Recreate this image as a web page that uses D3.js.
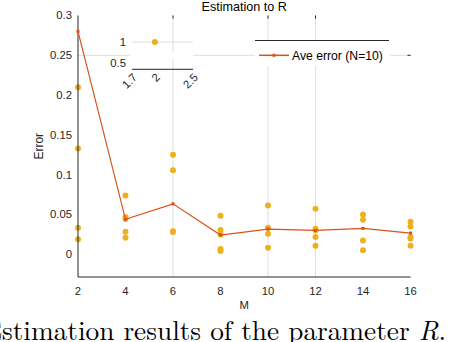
<!DOCTYPE html>
<html><head><meta charset="utf-8">
<script src="https://cdn.jsdelivr.net/npm/d3@7"></script>
<style>
html,body{margin:0;padding:0;background:#fff;}
svg{display:block;font-family:"Liberation Sans",Arial,sans-serif;}
</style></head>
<body><svg id="c" width="452" height="342"></svg>
<script>
// ---- data ----
const mValues = [2, 4, 6, 8, 10, 12, 14, 16];
const aveError = [0.280, 0.044, 0.0634, 0.0242, 0.0317, 0.030, 0.0326, 0.0267];
const trialErrors = [
  [0.210, 0.133, 0.0333, 0.0188],
  [0.074, 0.047, 0.0445, 0.0283, 0.0208],
  [0.125, 0.1055, 0.029, 0.028],
  [0.0484, 0.0305, 0.025, 0.0066, 0.0041],
  [0.0614, 0.0333, 0.0258, 0.0083],
  [0.0571, 0.0321, 0.030, 0.0217, 0.0108],
  [0.050, 0.0434, 0.0175, 0.005],
  [0.0409, 0.035, 0.0217, 0.020, 0.0108]
];
const xTicks = [2, 4, 6, 8, 10, 12, 14, 16];
const yTicks = [0, 0.05, 0.1, 0.15, 0.2, 0.25, 0.3];
const yTickLabels = ["0", "0.05", "0.1", "0.15", "0.2", "0.25", "0.3"];
const xGrid = [6, 10, 12];
const yGrid = [0.25];
const insetXTicks = [1.7, 2, 2.5];
const insetXTickLabels = ["1.7", "2", "2.5"];
const insetYTicks = [0.5, 1];
const insetPoint = [2, 1];
const titleText = "Estimation to R";
const xLabel = "M";
const yLabel = "Error";
const legendText = "Ave error (N=10)";
const captionText = "Estimation results of the parameter ";
const captionMath = "R";
const captionTail = ". I";

const YELLOW = "#EDB120", ORANGE = "#D95319", GRID = "#dedede";

const svg = d3.select("#c");
const x = d3.scaleLinear().domain([2, 16]).range([78, 410.5]);
const y = d3.scaleLinear().domain([-0.0285, 0.3]).range([277, 15.5]);

// grid
svg.append("g").selectAll("line").data(xGrid).join("line")
  .attr("x1", d => x(d)).attr("x2", d => x(d)).attr("y1", y.range()[1]).attr("y2", y.range()[0])
  .attr("stroke", GRID).attr("stroke-width", 1);
svg.append("g").selectAll("line").data(yGrid).join("line")
  .attr("x1", x.range()[0]).attr("x2", x.range()[1]).attr("y1", d => y(d)).attr("y2", d => y(d))
  .attr("stroke", GRID).attr("stroke-width", 1);
// stray top/right ticks
svg.append("g").selectAll("line").data(xGrid).join("line")
  .attr("x1", d => x(d)).attr("x2", d => x(d)).attr("y1", y.range()[1]).attr("y2", y.range()[1] + 3)
  .attr("stroke", "#262626");
svg.append("g").selectAll("line").data(yGrid).join("line")
  .attr("x1", x.range()[1] - 3).attr("x2", x.range()[1]).attr("y1", d => y(d)).attr("y2", d => y(d))
  .attr("stroke", "#262626");

// inset (artifact axes)
const ix = d3.scaleLinear().domain([1.7, 2.5]).range([132, 193]);
const iy = d3.scaleLinear().domain([0.35, 1.1]).range([69.3, 37.8]);
svg.append("rect").attr("x", ix.range()[0] - 2).attr("y", iy(0.78)).attr("width", ix.range()[1] - ix.range()[0] + 2).attr("height", iy(0.6) - iy(0.78)).attr("fill", "#fff");
svg.append("line").attr("x1", ix.range()[0]).attr("x2", ix.range()[1]).attr("y1", iy(1)).attr("y2", iy(1)).attr("stroke", GRID);
svg.append("line").attr("x1", ix.range()[0]).attr("x2", ix.range()[1]).attr("y1", iy.range()[0]).attr("y2", iy.range()[0]).attr("stroke", "#262626");
svg.append("g").selectAll("text").data(insetYTicks).join("text")
  .attr("x", ix.range()[0] - 6).attr("y", d => iy(d)).attr("dy", "0.35em")
  .attr("text-anchor", "end").attr("font-size", 11.3).attr("fill", "#262626").text(d => d);
svg.append("g").selectAll("text").data(insetXTicks).join("text")
  .attr("transform", d => `translate(${ix(d) + 3},${iy.range()[0] + 6}) rotate(-45)`)
  .attr("text-anchor", "end").attr("dy", "0.35em")
  .attr("font-size", 11.3).attr("fill", "#262626").text((d, i) => insetXTickLabels[i]);
svg.append("circle").attr("cx", ix(insetPoint[0])).attr("cy", iy(insetPoint[1])).attr("r", 3).attr("fill", YELLOW);

// legend
const lg = svg.append("g");
lg.append("rect").attr("x", 255).attr("y", 40.5).attr("width", 135).attr("height", 26).attr("fill", "#fff");
lg.append("line").attr("x1", 255).attr("x2", 389).attr("y1", 40.5).attr("y2", 40.5).attr("stroke", "#262626");
const ly = y(0.25);
lg.append("line").attr("x1", 259).attr("x2", 289).attr("y1", ly).attr("y2", ly).attr("stroke", ORANGE).attr("stroke-width", 1.5);
lg.append("rect").attr("x", 272.5).attr("y", ly - 1.5).attr("width", 3).attr("height", 3).attr("fill", ORANGE);
lg.append("text").attr("x", 292).attr("y", ly).attr("dy", "0.36em").attr("font-size", 12.2).attr("fill", "#000").text(legendText);

// trial dots
const pts = [];
mValues.forEach((m, i) => trialErrors[i].forEach(v => pts.push([m, v])));
svg.append("g").selectAll("circle").data(pts).join("circle")
  .attr("cx", d => x(d[0])).attr("cy", d => y(d[1])).attr("r", 3).attr("fill", YELLOW);

// axes lines
svg.append("line").attr("x1", x.range()[0]).attr("x2", x.range()[0]).attr("y1", y.range()[0]).attr("y2", y.range()[1]).attr("stroke", "#262626");
svg.append("line").attr("x1", x.range()[0]).attr("x2", x.range()[1]).attr("y1", y.range()[0]).attr("y2", y.range()[0]).attr("stroke", "#262626");

// average line
const line = d3.line().x((d, i) => x(mValues[i])).y(d => y(d));
svg.append("path").datum(aveError).attr("d", line).attr("fill", "none").attr("stroke", ORANGE).attr("stroke-width", 1.2);
svg.append("g").selectAll("rect").data(aveError).join("rect")
  .attr("x", (d, i) => x(mValues[i]) - 1.5).attr("y", d => y(d) - 1.5).attr("width", 3).attr("height", 3).attr("fill", ORANGE);

// tick labels
svg.append("g").selectAll("text").data(yTicks).join("text")
  .attr("x", x.range()[0] - 6).attr("y", d => y(d)).attr("dy", "0.35em")
  .attr("text-anchor", "end").attr("font-size", 11.3).attr("fill", "#262626").text((d, i) => yTickLabels[i]);
svg.append("g").selectAll("text").data(xTicks).join("text")
  .attr("x", d => x(d)).attr("y", y.range()[0] + 14).attr("dy", "0.35em")
  .attr("text-anchor", "middle").attr("font-size", 11.3).attr("fill", "#262626").text(d => d);

// labels
svg.append("text").attr("x", (x.range()[0] + x.range()[1]) / 2).attr("y", 309)
  .attr("text-anchor", "middle").attr("font-size", 11.3).attr("fill", "#262626").text(xLabel);
svg.append("text").attr("transform", `translate(43,${(y.range()[0] + y.range()[1]) / 2}) rotate(-90)`)
  .attr("text-anchor", "middle").attr("font-size", 12).attr("fill", "#262626").text(yLabel);
svg.append("text").attr("x", (x.range()[0] + x.range()[1]) / 2).attr("y", 11)
  .attr("text-anchor", "middle").attr("font-size", 12.6).attr("fill", "#000").text(titleText);

// caption (cropped by the picture edge, as in the reference)
const cap = svg.append("text").attr("x", 0).attr("y", 339.5)
  .attr("font-family", "'Latin Modern Roman','CMU Serif','Liberation Serif',serif")
  .attr("fill", "#000").attr("font-size", 30);
cap.append("tspan").text(captionText);
cap.append("tspan").attr("font-style", "italic").text(captionMath);
cap.append("tspan").text(captionTail);
(function fitCaption() {
  const n = cap.node();
  const sIdx = 1;
  const dotIdx = captionText.length + captionMath.length;
  for (let k = 0; k < 3; k++) {
    const sx = n.getExtentOfChar(sIdx).x;
    const de = n.getExtentOfChar(dotIdx);
    const w = de.x + de.width - sx;
    cap.attr("font-size", +cap.attr("font-size") * 444 / w);
  }
  cap.attr("x", 2 - n.getExtentOfChar(sIdx).x);
})();
</script></body></html>
